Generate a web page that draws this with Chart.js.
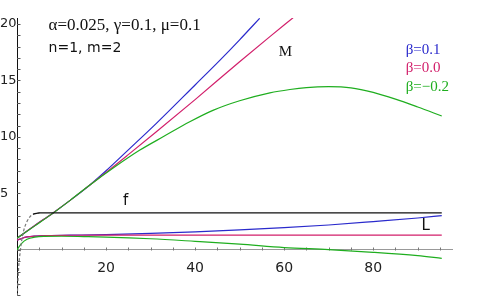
<!DOCTYPE html>
<html>
<head>
<meta charset="utf-8">
<script src="https://cdn.jsdelivr.net/npm/chart.js@4/dist/chart.umd.min.js"></script>
<style>
  html, body { margin: 0; padding: 0; background: #fff; }
  #wrap { width: 478px; height: 296px; }
</style>
</head>
<body>
<div id="wrap"><canvas id="plot" width="478" height="296"></canvas></div>
<script>
// values
const fX = [0.05, 0.38, 0.76, 1.12, 1.73, 2.85, 3.6, 5.1, 95.4];
const fY = [-4.1, -1.5, -0.06, 1.0, 2.0, 2.9, 3.15, 3.28, 3.28];

const lowBlueX = [0, 1, 2.25, 4, 7, 12, 20, 30, 40, 50, 60, 70, 80, 90, 95.4];
const lowBlueY = [0.85, 1.0, 1.14, 1.22, 1.27, 1.3, 1.35, 1.45, 1.59, 1.76, 1.96, 2.2, 2.5, 2.82, 3.03];
const lowRedX = [0, 1, 2.25, 4, 7, 12, 20, 95.4];
const lowRedY = [0.85, 1.0, 1.14, 1.22, 1.27, 1.29, 1.3, 1.3];
const lowGreenX = [0, 1, 2.25, 4, 6, 10, 15, 20, 30, 40, 50, 60, 70, 80, 90, 95.4];
const lowGreenY = [0, 0.55, 0.93, 1.12, 1.19, 1.2, 1.17, 1.13, 0.98, 0.75, 0.5, 0.2, 0.02, -0.22, -0.52, -0.75];

const blueX = [0, 4, 8.1, 12, 16.3, 20, 25, 31.3, 40, 45.6, 50, 54.5];
const blueY = [1.03, 2.15, 3.27, 4.4, 5.72, 7.0, 8.85, 11.2, 14.6, 16.8, 18.6, 20.5];
const redX = [0, 4, 8.1, 12, 16.3, 20, 25, 31.3, 40, 50, 56.8, 62];
const redY = [1.03, 2.15, 3.27, 4.4, 5.72, 6.85, 8.43, 10.45, 13.3, 16.66, 18.88, 20.55];
const greenX = [0, 4, 8.1, 12, 16.3, 22, 27.6, 33, 38.8, 44, 50, 56.8, 61.3, 65, 70, 75, 80, 85, 90, 95.4];
const greenY = [1.03, 2.12, 3.25, 4.4, 5.72, 7.35, 8.83, 10.05, 11.34, 12.35, 13.2, 13.9, 14.2, 14.37, 14.45, 14.35, 13.95, 13.35, 12.65, 11.85];

const xLabelTicks = [20, 40, 60, 80];
const yLabelTicks = [5, 10, 15, 20];

const BLUE = "#2a2acc";
const RED = "#d21f6b";
const GREEN = "#1fae1f";

const pts = (xs, ys) => xs.map((x, i) => ({ x: x, y: ys[i] }));

function line(data, color, extra) {
  return Object.assign({
    data: data,
    borderColor: color,
    borderWidth: 1.2,
    pointRadius: 0,
    cubicInterpolationMode: "monotone",
    fill: false,
  }, extra || {});
}

// f: dashed grey start, then the solid plateau
const fStart = pts(fX.slice(0, 8), fY.slice(0, 8));
const fRest = pts(fX.slice(6), fY.slice(6));

const notes = [
  { text: "α=0.025, γ=0.1, μ=0.1", x: 7.1, y: 19.9, color: "#111", font: "17px 'Liberation Serif', serif", align: "left" },
  { text: "n=1, m=2", x: 7.1, y: 17.85, color: "#111", font: "14px 'DejaVu Sans', sans-serif", align: "left" },
  { text: "M", x: 58.8, y: 17.5, color: "#111", font: "15px 'Liberation Serif', serif", align: "left" },
  { text: "β=0.1", x: 87.3, y: 17.7, color: BLUE, font: "15px 'Liberation Serif', serif", align: "left" },
  { text: "β=0.0", x: 87.3, y: 16.08, color: RED, font: "15px 'Liberation Serif', serif", align: "left" },
  { text: "β=−0.2", x: 87.3, y: 14.39, color: GREEN, font: "15px 'Liberation Serif', serif", align: "left" },
  { text: "f", x: 24.4, y: 4.28, color: "#111", font: "15px 'DejaVu Sans', sans-serif", align: "center" },
  { text: "L", x: 91.8, y: 2.12, color: "#111", font: "15px 'DejaVu Sans', sans-serif", align: "center" },
];

// small inward tick marks at every tick the scales generate
const tickPlugin = {
  id: "inwardTicks",
  beforeDatasetsDraw(chart) {
    const ctx = chart.ctx;
    const sx = chart.scales.x;
    const sy = chart.scales.y;
    const x0 = Math.round(sx.getPixelForValue(0)) + 0.5;
    const y0 = Math.round(sy.getPixelForValue(0)) + 0.5;
    ctx.save();
    ctx.lineWidth = 1;
    ctx.strokeStyle = "#777";
    ctx.beginPath();
    sx.ticks.forEach((t) => {
      if (t.value <= 0) return;
      const px = Math.round(sx.getPixelForValue(t.value)) + 0.5;
      ctx.moveTo(px, y0);
      ctx.lineTo(px, y0 - 3);
    });
    ctx.stroke();
    ctx.strokeStyle = "#555";
    ctx.beginPath();
    sy.ticks.forEach((t) => {
      const py = Math.round(sy.getPixelForValue(t.value)) + 0.5;
      ctx.moveTo(x0 - 0.5, py);
      ctx.lineTo(x0 + 3, py);
    });
    ctx.stroke();
    ctx.restore();
  },
};

const notePlugin = {
  id: "notes",
  afterDraw(chart) {
    const ctx = chart.ctx;
    const sx = chart.scales.x;
    const sy = chart.scales.y;
    ctx.save();
    ctx.textBaseline = "middle";
    notes.forEach((n) => {
      ctx.font = n.font;
      ctx.fillStyle = n.color;
      ctx.textAlign = n.align;
      ctx.fillText(n.text, sx.getPixelForValue(n.x), sy.getPixelForValue(n.y));
    });
    ctx.restore();
  },
};

new Chart(document.getElementById("plot"), {
  type: "line",
  data: {
    datasets: [
      line(fRest, "#111"),
      line(fStart, "#777", { borderDash: [3, 2] }),
      line(pts(lowGreenX, lowGreenY), GREEN),
      line(pts(lowRedX, lowRedY), RED),
      line(pts(lowBlueX, lowBlueY), BLUE),
      line(pts(greenX, greenY), GREEN),
      line(pts(redX, redY), RED),
      line(pts(blueX, blueY), BLUE),
    ],
  },
  options: {
    responsive: false,
    animation: false,
    layout: { padding: { top: 18, right: 26, bottom: 0, left: 0 } },
    plugins: {
      legend: { display: false },
      tooltip: { enabled: false },
    },
    scales: {
      x: {
        type: "linear",
        position: { y: 0 },
        min: 0,
        max: 97.7,
        grid: { drawOnChartArea: false, drawTicks: false },
        border: { color: "#999", width: 1 },
        ticks: {
          stepSize: 5,
          includeBounds: false,
          autoSkip: false,
          maxRotation: 0,
          padding: 10.1,
          color: "#222",
          font: { family: "'DejaVu Sans', sans-serif", size: 14 },
          callback: (v) => (xLabelTicks.includes(v) ? String(v) : ""),
        },
      },
      y: {
        type: "linear",
        position: "left",
        min: -4.09,
        max: 20.53,
        afterFit: (scale) => {
          scale.width = 17;
          scale.paddingTop = 0;
          scale.paddingBottom = 0;
        },
        grid: { drawOnChartArea: false, drawTicks: false },
        border: { color: "#111", width: 1 },
        ticks: {
          stepSize: 1,
          includeBounds: false,
          autoSkip: false,
          crossAlign: "far",
          color: "#222",
          font: { family: "'DejaVu Sans', sans-serif", size: 13 },
          callback: (v) => (yLabelTicks.includes(v) ? String(v) : ""),
        },
      },
    },
  },
  plugins: [tickPlugin, notePlugin],
});
</script>
</body>
</html>
